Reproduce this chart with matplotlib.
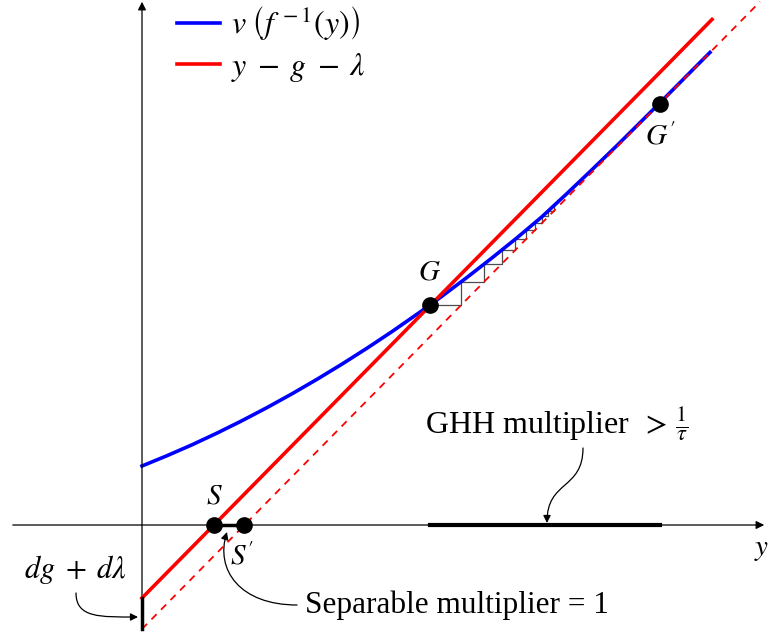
import numpy as np
import matplotlib.pyplot as plt
from matplotlib.patches import FancyArrowPatch
from matplotlib.path import Path

plt.rcParams['font.family'] = ['Liberation Serif', 'DejaVu Serif']
plt.rcParams['mathtext.fontset'] = 'stix'

# curva blu v(f^-1(y))
blue_x = [0.00, 0.25, 0.50, 0.75, 1.00, 1.25, 1.50, 1.75, 2.00, 2.25, 2.50, 2.75, 2.88,
          3.00, 3.25, 3.50, 3.75, 4.00, 4.25, 4.50, 4.75, 5.00, 5.25, 5.50, 5.68]
blue_y = [0.590, 0.693, 0.802, 0.919, 1.043, 1.174, 1.312, 1.457, 1.609, 1.768, 1.934, 2.108, 2.200,
          2.288, 2.476, 2.671, 2.872, 3.083, 3.315, 3.553, 3.795, 4.043, 4.293, 4.545, 4.726]

# rette rosse y - g - lambda (prima e dopo lo shock)
slope = 1.015
icpt_old = -0.73
icpt_new = -1.04
red_x_end = 5.70
dash_x_end = 6.18

# punti
G = (2.88, 2.20)
G2 = (5.18, 4.21)
S_x = -icpt_old / slope
S2_x = -icpt_new / slope

fig = plt.figure(figsize=(7.69, 6.38), dpi=100)
ax = fig.add_axes([0, 0, 1, 1])
ax.set_xlim(-1.42, 6.27)
ax.set_ylim(-1.13, 5.25)
ax.set_aspect('equal')
ax.axis('off')

# assi
ax.annotate('', xy=(6.25, 0), xytext=(-1.32, 0), annotation_clip=False,
            arrowprops=dict(arrowstyle='-|>', lw=0.9, color='black', mutation_scale=12))
ax.annotate('', xy=(0, 5.26), xytext=(0, -1.07), annotation_clip=False,
            arrowprops=dict(arrowstyle='-|>', lw=0.9, color='black', mutation_scale=12))

# scalini tra la curva blu e la retta tratteggiata
x, h = G
for i in range(9):
    x_new = (h - icpt_new) / slope
    h_new = np.interp(x_new, blue_x, blue_y)
    ax.plot([x, x_new, x_new], [h, h, h_new], color='0.3', lw=0.9, zorder=1)
    x, h = x_new, h_new

ax.plot(blue_x, blue_y, color='blue', lw=2.6, zorder=2, label=r'$v\;\left(f^{\,-1}(y)\right)$')
xs = np.array([0, red_x_end])
ax.plot(xs, slope * xs + icpt_old, color='red', lw=2.6, zorder=3, label=r'$y\;-\;g\;-\;\lambda$')
xd = np.array([0, dash_x_end])
ax.plot(xd, slope * xd + icpt_new, color='red', lw=1.3, ls=(0, (4, 3.5)), zorder=4)

# segmenti spessi
ax.plot([S_x, S2_x], [0, 0], color='black', lw=2.5, zorder=5)
ax.plot([G[0], G2[0]], [0, 0], color='black', lw=3, zorder=5)
ax.plot([0, 0], [icpt_old, icpt_new], color='black', lw=2.5, zorder=5)

# punti
ax.plot([S_x, S2_x, G[0], G2[0]], [0, 0, G[1], G2[1]], 'o', color='black', ms=11, zorder=6)

fs = 21
ax.text(S_x, 0.28, '$S$', fontsize=fs, ha='center', va='center')
ax.text(S2_x - 0.02, -0.32, "$S'$", fontsize=fs, ha='center', va='center')
ax.text(G[0], 2.53, '$G$', fontsize=fs, ha='center', va='center')
ax.text(G2[0], 3.88, "$G'$", fontsize=fs, ha='center', va='center')
ax.text(6.20, -0.25, '$y$', fontsize=fs, ha='center', va='center')

ax.text(4.15, 1.02, r'GHH multiplier $\,>\,\frac{1}{\tau}$', fontsize=23, ha='center', va='center')
ax.text(1.63, -0.80, 'Separable multiplier = 1', fontsize=22.5, ha='left', va='center')
ax.text(-0.67, -0.44, r'$dg\;+\;d\lambda$', fontsize=22, ha='center', va='center')

# frecce curve
def curved_arrow(pts):
    path = Path(pts, [Path.MOVETO, Path.CURVE4, Path.CURVE4, Path.CURVE4])
    ax.add_patch(FancyArrowPatch(path=path, arrowstyle='-|>', mutation_scale=11,
                                 lw=0.9, color='black', zorder=7))

curved_arrow([(4.41, 0.77), (4.41, 0.35), (4.05, 0.45), (4.05, 0.02)])
curved_arrow([(1.55, -0.80), (0.98, -0.80), (0.73, -0.45), (0.85, -0.07)])
curved_arrow([(-0.66, -0.68), (-0.66, -0.93), (-0.42, -0.92), (-0.04, -0.92)])

ax.legend(loc='upper left', bbox_to_anchor=(0.209, 1.017), frameon=False, fontsize=23,
          handlelength=1.35, handletextpad=0.35, labelspacing=0.25, borderpad=0.0)

fig.savefig('out.png', dpi=100)
